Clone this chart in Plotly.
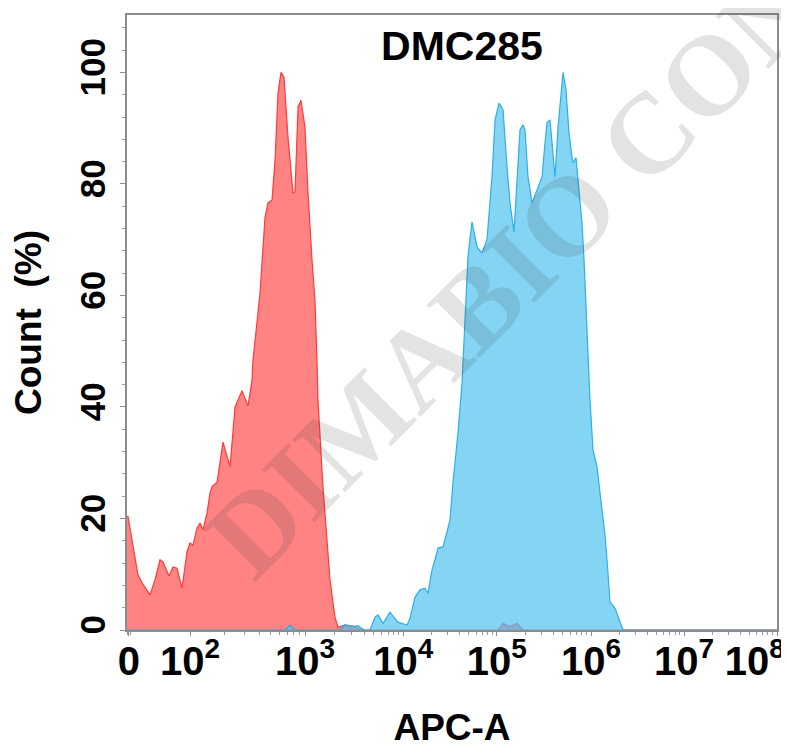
import numpy as np
import plotly.graph_objects as go

# Display-channel positions (biexponential axis, 0..1000) of the decade ticks
tick_pos = [3, 97, 274, 425, 569, 714, 857, 1000]
tick_text = ["0", "10<sup>2</sup>", "10<sup>3</sup>", "10<sup>4</sup>", "10<sup>5</sup>",
             "10<sup>6</sup>", "10<sup>7</sup>", "10<sup>8</sup>&nbsp;&nbsp;&nbsp;&nbsp;"]

# Red histogram (control)
red_x = [0, 1.5, 16.9, 23, 35.4, 43, 50.8, 55.4, 64.6, 70.8, 76.9, 84.6, 92.3, 96.9, 101.5,
         107.7, 112.3, 116.9, 123.1, 127.7, 130.8, 138.5, 147.7, 158.5, 166.2, 176.9, 186.2,
         192.3, 193.8, 203, 204.6, 212.3, 216.9, 223.1, 227.7, 232.3, 236.9, 241.5, 247.7,
         255.4, 258.5, 263.1, 267.7, 273.8, 278.5, 284.6, 289.2, 292.3, 293.8, 301.5, 309.2,
         312.3, 320, 324.6, 332.3, 347.7, 355.4, 363, 570.8, 578.5, 589, 600, 609, 1000]
red_y = [20.4, 20.4, 9.9, 8.5, 6.3, 9, 12.6, 12.2, 9.7, 11.3, 11.1, 7.5, 14, 15.6, 15.2,
         18.3, 19.2, 18, 21, 24.6, 25.7, 26.5, 33.7, 29.3, 40, 42.9, 40.2,
         44.8, 48.4, 59.2, 60.4, 74, 76.6, 77.1, 84.3, 96.3, 100, 99.2, 88.4,
         78.4, 78.6, 93.8, 95, 90.2, 78.4, 66.4, 59.2, 48.4, 41.3, 25.7, 14.3,
         9, 2.3, 0.5, 0.8, 0.7, 0.3, 0, 0, 1.2, 0.6, 1.2, 0, 0]

# Blue histogram (DMC285)
blue_x = [0, 243, 250.8, 258.5, 327.7, 335.4, 346, 355.4, 364.6, 373.8, 381.5, 386.2, 393.8,
          404.6, 416.9, 430.8, 435.4, 443.1, 450.8, 458.5, 463.1, 469.2, 473.8, 478.5, 486.2,
          496.9, 501.5, 509.2, 515.4, 520, 524.6, 530.8, 538.5, 546.2, 553.8, 561.5, 566.2,
          572.3, 578.5, 584.6, 589.2, 595.4, 600, 604.6, 609.2, 612.3, 616.9, 623.1, 630.8,
          638.5, 643.1, 646.2, 650.8, 655.4, 658.5, 663.1, 669.2, 670.8, 675.4, 680, 684.6,
          686.2, 690.8, 693.8, 700, 703.1, 707.7, 712.3, 716.9, 723.1, 727.7, 735.4, 738.5,
          743.1, 750.8, 755.4, 763.1, 1000]
blue_y = [0, 0, 0.9, 0, 0, 1, 0.6, 0.8, 0, 0, 2.3, 2.7, 1.2,
          3.2, 1.4, 0.9, 2.1, 5.9, 7.2, 7.5, 6.6, 10.8, 12.6, 14.7, 14.9,
          19.7, 26.4, 35.3, 44.3, 56.1, 67, 73.2, 68.7, 67.6, 70, 81.3, 91.5,
          94.5, 93.3, 83.1, 76.6, 71.4, 81.3, 89.7, 90.6, 89.7, 81.3, 76.6, 78.9,
          81.3, 87.4, 91, 91.5, 86.1, 81.3, 90.2, 98.1, 100, 96.9, 89.2, 84.8,
          83.8, 84.7, 81.3, 73, 66.4, 53.3, 41.3, 32.3, 29.3, 24.6, 17, 12.6,
          5, 3.9, 2.3, 0, 0]

# minor log ticks inside each decade
minor_vals = [1, 5]
for a, b in zip(tick_pos[1:-1], tick_pos[2:]):
    for k in range(2, 10):
        minor_vals.append(a + (b - a) * np.log10(k))

fig = go.Figure()
fig.add_trace(go.Scatter(x=red_x, y=red_y, mode="lines", fill="tozeroy",
                         line=dict(color="rgba(255,45,45,0.9)", width=1.2),
                         fillcolor="rgba(255,100,100,0.8)", showlegend=False))
fig.add_trace(go.Scatter(x=blue_x, y=blue_y, mode="lines", fill="tozeroy",
                         line=dict(color="rgba(30,170,225,0.9)", width=1.2),
                         fillcolor="rgba(80,195,240,0.7)", showlegend=False))

# the page body has an 8px margin, so the figure is laid out 8px up/left
fig.update_layout(
    width=781, height=740,
    margin=dict(l=119, r=12, t=7, b=118, autoexpand=False),
    paper_bgcolor="white", plot_bgcolor="white",
    font=dict(family="Liberation Sans, Arial", color="black"),
    title=dict(text="DMC285", x=(462 - 127) / 650, xref="paper", xanchor="center",
               y=1 - 38 / 740, yref="container", yanchor="middle", automargin=False,
               font=dict(size=41, weight="bold", family="Liberation Sans, Arial")),
    xaxis=dict(range=[0, 1000], tickmode="array", tickvals=tick_pos, ticktext=tick_text,
               automargin=False, ticklabeloverflow="allow",
               showgrid=False, zeroline=False, showline=True, mirror=True,
               linecolor="#8c8c8c", linewidth=1.5, ticks="outside", ticklen=4,
               tickcolor="#8c8c8c", tickwidth=1.2, ticklabelstandoff=-9,
               tickfont=dict(size=40, weight="bold"),
               minor=dict(tickmode="array", tickvals=minor_vals, ticks="outside",
                          ticklen=3, tickcolor="#9a9a9a", tickwidth=1),
               title=dict(text="APC-A", font=dict(size=37, weight="bold"), standoff=35)),
    yaxis=dict(range=[0, 110.3], tickmode="array", tickvals=[0, 20, 40, 60, 80, 100],
               automargin=False,
               showgrid=False, zeroline=False, showline=True, mirror=True,
               linecolor="#8c8c8c", linewidth=1.5, ticks="outside", ticklen=5,
               tickcolor="#8c8c8c", tickwidth=1.2, tickangle=-90, ticklabelstandoff=1,
               tickfont=dict(size=35, weight="bold"),
               minor=dict(dtick=4, tick0=0, ticks="outside", ticklen=3,
                          tickcolor="#9a9a9a", tickwidth=1),
               title=dict(text="Count  (%)", font=dict(size=37, weight="bold"), standoff=21)),
)

fig.add_annotation(text="DIMABIO CON", xref="paper", yref="paper",
                   x=(512 - 127) / 650, y=(630 - 270) / 615, showarrow=False,
                   textangle=-45, xanchor="center", yanchor="middle",
                   font=dict(family="Liberation Serif, Times New Roman", size=114,
                             weight="bold", color="rgba(60,60,60,0.14)"))

fig.write_html("out.html")
